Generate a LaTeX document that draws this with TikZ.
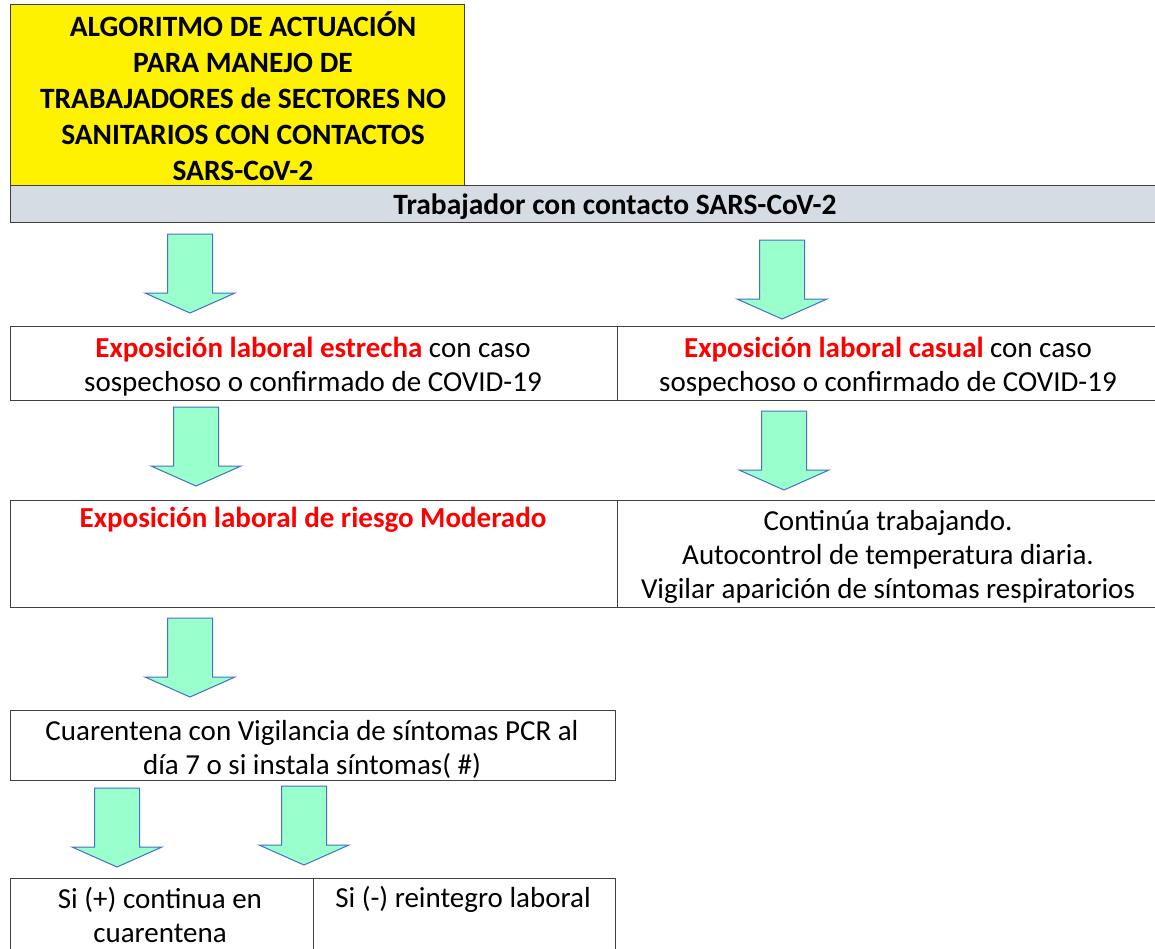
\documentclass[tikz,border=0pt]{standalone}
\usepackage{fontspec}
\setmainfont{Carlito}
\definecolor{arrowfill}{HTML}{99FFCC}
\definecolor{arrowline}{HTML}{4472C4}
\definecolor{barfill}{HTML}{D6DCE4}
\definecolor{boxline}{HTML}{404040}
\definecolor{hired}{HTML}{FF0000}
\tikzset{
  cell/.style={draw=boxline, line width=1.3pt, inner sep=0pt, rectangle},
  txt/.style={align=center, inner sep=0pt, font=\fontsize{29}{34}\selectfont},
  btxt/.style={align=center, inner sep=0pt, font=\fontsize{29.5}{36}\selectfont\bfseries},
  blockarrow/.style={fill=arrowfill, draw=arrowline, line width=1pt, line join=miter}
}
\newcommand\downblock[2]{%
  \draw[blockarrow] (#1-22.5,#2) -- (#1+22.5,#2) -- (#1+22.5,#2+59) -- (#1+45,#2+59)
     -- (#1,#2+79) -- (#1-45,#2+59) -- (#1-22.5,#2+59) -- cycle;}
\begin{document}
\begin{tikzpicture}[x=1pt,y=-1pt]
\useasboundingbox (0,0) rectangle (1155,948);
% title
\node[cell, fill=yellow, minimum width=454, minimum height=181, anchor=north west] (title) at (10,4) {};
\node[btxt] (titletxt) at (243,96) {ALGORITMO DE ACTUACIÓN\\PARA MANEJO DE\\TRABAJADORES de SECTORES NO\\SANITARIOS CON CONTACTOS\\SARS-CoV-2};
% bar
\node[cell, fill=barfill, minimum width=1150, minimum height=37, anchor=north west] (bar) at (10,185) {};
\node[btxt] (bartxt) at (615,207) {Trabajador con contacto SARS-CoV-2};
% row 2
\node[cell, minimum width=607, minimum height=74, anchor=north west] (estrecha) at (10,326) {};
\node[cell, minimum width=543, minimum height=74, anchor=north west] (casual) at (617,326) {};
\node[txt] (estrechatxt) at (313,367) {{\bfseries\color{hired}Exposición laboral estrecha} con caso\\sospechoso o confirmado de COVID-19};
\node[txt] (casualtxt) at (888,367) {{\bfseries\color{hired}Exposición laboral casual} con caso\\sospechoso o confirmado de COVID-19};
% row 3
\node[cell, minimum width=607, minimum height=107, anchor=north west] (moderado) at (10,500) {};
\node[cell, minimum width=543, minimum height=107, anchor=north west] (continua) at (617,500) {};
\node[txt, anchor=north] (moderadotxt) at (313,507) {{\bfseries\color{hired}Exposición laboral de riesgo Moderado}};
\node[txt] (continuatxt) at (888,557) {Continúa trabajando.\\Autocontrol de temperatura diaria.\\Vigilar aparición de síntomas respiratorios};
% row 4
\node[cell, minimum width=605, minimum height=70, anchor=north west] (cuarentena) at (10,710) {};
\node[txt] (cuarentenatxt) at (312,749) {Cuarentena con Vigilancia de síntomas PCR al\\día 7 o si instala síntomas( \#)};
% row 5
\node[cell, minimum width=303, minimum height=90, anchor=north west] (positivo) at (10,878) {};
\node[cell, minimum width=302, minimum height=90, anchor=north west] (negativo) at (313,878) {};
\node[txt] (positivotxt) at (160,915) {Si (+) continua en\\cuarentena};
\node[txt] (negativotxt) at (463,899) {Si (-) reintegro laboral};
% block arrows
\downblock{190}{234}
\downblock{782}{240}
\downblock{196}{407}
\downblock{784}{411}
\downblock{190}{618}
\downblock{117}{788}
\downblock{304}{786}
\end{tikzpicture}
\end{document}
